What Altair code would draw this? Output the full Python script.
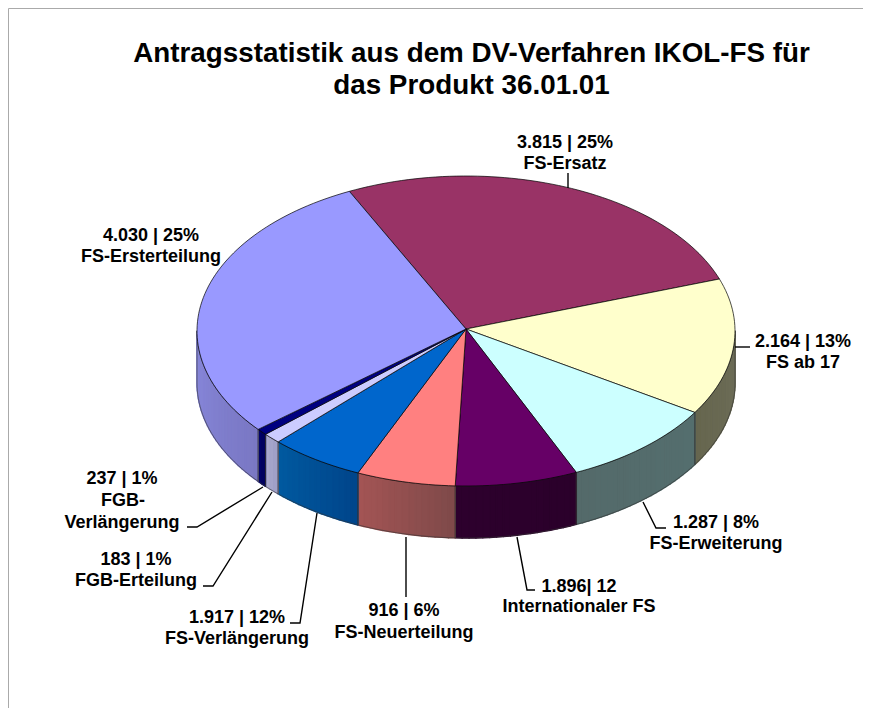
import math
import altair as alt

categories = ["FS-Ersatz", "FS ab 17", "FS-Erweiterung", "Internationaler FS",
              "FS-Neuerteilung", "FS-Verlängerung", "FGB-Erteilung", "FGB-Verlängerung", "FS-Ersterteilung"]
value_labels = ["3.815 | 25%", "2.164 | 13%", "1.287 | 8%", "1.896| 12",
                "916 | 6%", "1.917 | 12%", "183 | 1%", "237 | 1%", "4.030 | 25%"]
# Visible sweep of each slice on the tilted pie, clockwise, in degrees of the ellipse
slice_sweeps = [96.1, 51.3, 34.1, 26.5, 21.4, 20.6, 3.9, 2.4, 103.7]
top_colors = ["#993366", "#FFFFCC", "#CCFFFF", "#660066",
              "#FF8080", "#0066CC", "#CCCCFF", "#000080", "#9999FF"]
side_colors_from = ["#7A2952", "#66664F", "#546A6A", "#2D002D",
                    "#A35454", "#00599F", "#A8A8CC", "#000068", "#8888DC"]
side_colors_to = ["#7A2952", "#6E6E58", "#546E6E", "#2B002B",
                  "#804A4A", "#00468C", "#A0A0C8", "#000060", "#7A78C4"]

START = 115.7
CX, CY, RX, RY, DEPTH = 466, 331, 269, 155, 52
HUB = (466, 329)
W, H = 855, 700


def ux(px):
    return (px - CX) / RX


def uy(py):
    return (CY - py) / RX


def rim(t, drop=0.0):
    a = math.radians(t)
    return [math.cos(a), (math.sin(a) * RY - drop) / RX]


def mix(c1, c2, f):
    p = [int(c1[i:i + 2], 16) for i in (1, 3, 5)]
    q = [int(c2[i:i + 2], 16) for i in (1, 3, 5)]
    return "#%02x%02x%02x" % tuple(round(a + (b - a) * f) for a, b in zip(p, q))


def feat(ring, fill="none", stroke="#000000"):
    return {"type": "Feature", "properties": {"fill": fill, "stroke": stroke},
            "geometry": {"type": "Polygon", "coordinates": [ring + [ring[0]]]}}


def steps(a, b):
    n = max(2, int(abs(b - a) / 1.5) + 1)
    return [a + (b - a) * i / n for i in range(n + 1)]


tops, strips, wall_lines = [], [], []
edge = START
for sweep, top, c1, c2 in zip(slice_sweeps, top_colors, side_colors_from, side_colors_to):
    a, b = edge, edge - sweep
    tops.append(feat([[ux(HUB[0]), uy(HUB[1])]] + [rim(t) for t in steps(a, b)], fill=top))
    # only the wall between ellipse angles -180 and 0 faces the viewer
    lo = max(min(a, b), -180)
    hi = min(max(a, b), 0)
    if lo < hi:
        ts = steps(lo, hi)
        for i in range(len(ts) - 1):
            col = mix(c1, c2, i / max(1, len(ts) - 2))
            q = [rim(ts[i]), rim(ts[i + 1]), rim(ts[i + 1], DEPTH), rim(ts[i], DEPTH)]
            strips.append(feat(q, fill=col, stroke=col))
        ring = [rim(t) for t in ts] + [rim(t, DEPTH) for t in reversed(ts)]
        wall_lines.append(feat(ring, stroke="#333333"))
    edge = b

proj = alt.Projection(type="identity", reflectY=True, scale=RX, translate=[CX - 8, CY - 8])


def shapes(feats, width, filled=True):
    enc = {"stroke": alt.Color("properties.stroke:N", scale=None)}
    if filled:
        ch = alt.Chart(alt.Data(values=feats)).mark_geoshape(strokeWidth=width, strokeJoin="round")
        enc["fill"] = alt.Color("properties.fill:N", scale=None)
    else:
        ch = alt.Chart(alt.Data(values=feats)).mark_geoshape(strokeWidth=width, filled=False, strokeJoin="round")
    return ch.encode(**enc).project(**proj.to_dict())


label_pos = [(565, 143, 164), (803, 342, 363), (716, 523, 544), (579, 587, 607),
             (404, 611, 633), (237, 618, 639), (136, 560, 581), None, (151, 236, 257)]
label_rows = []
for i, pos in enumerate(label_pos):
    if pos:
        label_rows.append({"x": pos[0] - 8, "y": pos[1] - 8, "t": value_labels[i]})
        label_rows.append({"x": pos[0] - 8, "y": pos[2] - 8, "t": categories[i]})
label_rows.append({"x": 122 - 8, "y": 479 - 8, "t": value_labels[7]})
label_rows.append({"x": 123 - 8, "y": 501 - 8, "t": "FGB-"})
label_rows.append({"x": 122 - 8, "y": 523 - 8, "t": "Verlängerung"})

labels = alt.Chart(alt.Data(values=label_rows)).mark_text(
    font="Liberation Sans", fontSize=18, fontWeight="bold", color="#000000", align="center", baseline="middle"
).encode(x=alt.X("x:Q", scale=None), y=alt.Y("y:Q", scale=None), text="t:N")

leader_paths = [
    [(568, 173), (568, 188)],
    [(750, 347), (735, 347)],
    [(666, 528), (656, 528), (643, 502)],
    [(535, 590), (527, 590), (517, 537)],
    [(406, 597), (406, 537)],
    [(290, 623), (300, 623), (317, 513)],
    [(203, 586), (213, 586), (272, 492)],
    [(187, 527), (197, 527), (263, 487)],
]
leader_rows = [{"id": k, "o": j, "x": p[0] - 8, "y": p[1] - 8}
               for k, path in enumerate(leader_paths) for j, p in enumerate(path)]
leaders = alt.Chart(alt.Data(values=leader_rows)).mark_line(color="#000000", strokeWidth=1.4).encode(
    x=alt.X("x:Q", scale=None), y=alt.Y("y:Q", scale=None), detail="id:N", order="o:Q")

frame_rows = [{"id": 0, "o": 0, "x": 0.5, "y": H}, {"id": 0, "o": 1, "x": 0.5, "y": 0.5}, {"id": 0, "o": 2, "x": W, "y": 0.5}]
frame = alt.Chart(alt.Data(values=frame_rows)).mark_line(color="#aaaaaa", strokeWidth=1).encode(
    x=alt.X("x:Q", scale=None), y=alt.Y("y:Q", scale=None), detail="id:N", order="o:Q")

chart = alt.layer(
    frame,
    shapes(strips, 1.5),
    shapes(wall_lines, 0.6, filled=False),
    shapes(tops, 0.7),
    leaders,
    labels,
).properties(
    width=W, height=H,
    autosize=alt.AutoSizeParams(type="none"),
    padding=0,
    title=alt.TitleParams(
        text=["Antragsstatistik aus dem DV-Verfahren IKOL-FS für", "das Produkt 36.01.01"],
        font="Liberation Sans", fontSize=27.8, fontWeight="bold", color="#000000",
        lineHeight=32, anchor="middle", dx=36, offset=-93,
    ),
).configure_view(stroke=None)

chart.save("out.html", embed_options={"renderer": "svg", "actions": False})
